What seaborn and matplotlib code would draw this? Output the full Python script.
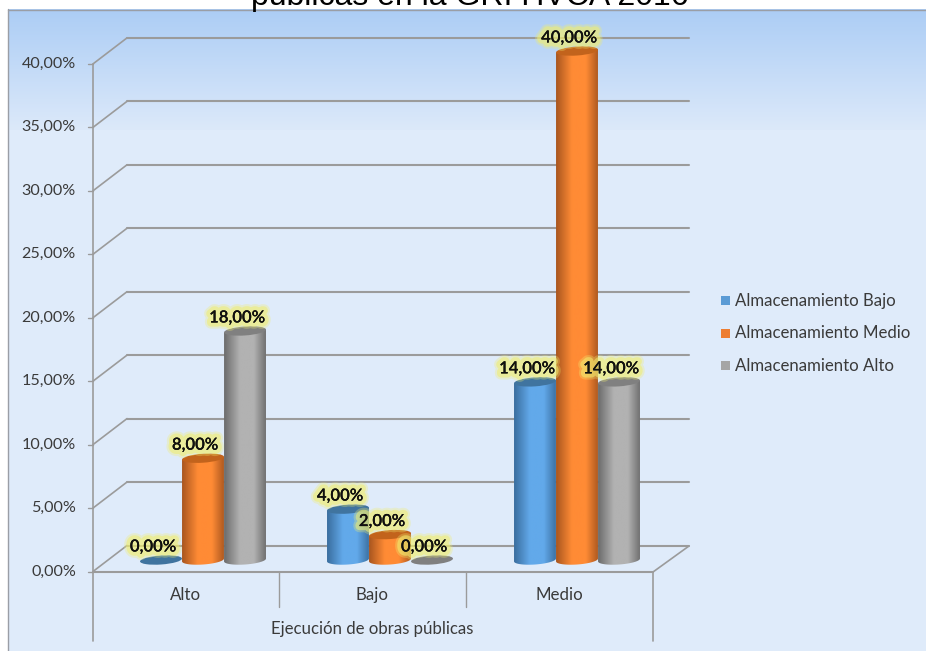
import numpy as np
import pandas as pd
import matplotlib
matplotlib.use("Agg")
import matplotlib.pyplot as plt
import matplotlib.patheffects as pe
from matplotlib.colors import LinearSegmentedColormap
from matplotlib.patches import Ellipse, Rectangle
from matplotlib.path import Path
from matplotlib.transforms import IdentityTransform
import seaborn as sns

categories = ["Alto", "Bajo", "Medio"]
series = ["Almacenamiento Bajo", "Almacenamiento Medio", "Almacenamiento Alto"]
bajo = [0.0, 4.0, 14.0]
medio = [8.0, 2.0, 40.0]
alto = [18.0, 0.0, 14.0]
ticks = [0, 5, 10, 15, 20, 25, 30, 35, 40]
title_text = "públicas en la GRI HVCA 2016"
axis_title = "Ejecución de obras públicas"

base_colors = ["#5B9BD5", "#ED7D31", "#A5A5A5"]
edge_colors = ["#3A6E9F", "#A9561F", "#6C6C6C"]
mid_colors = ["#62A9EA", "#FF8B35", "#B2B2B2"]
top_colors = ["#40749F", "#C2631C", "#808080"]

W, H = 926, 651
sns.set_theme(style="white")
plt.rcParams["font.family"] = ["Lato", "DejaVu Sans"]
df = pd.DataFrame({"cat": categories * 3,
                   "serie": np.repeat(series, 3),
                   "valor": bajo + medio + alto})

fig = plt.figure(figsize=(W / 100, H / 100), dpi=100, facecolor="white")

# background panel
bg = fig.add_axes([0, 0, 1, 1], zorder=0)
bg.set_xlim(0, W); bg.set_ylim(H, 0); bg.axis("off")
grad = LinearSegmentedColormap.from_list("g", ["#ACCDF5", "#DCE9FA"])
bg.add_patch(Rectangle((7.5, 9), W, H, fc="#DFEBFA", ec="none"))
bg.imshow(np.linspace(0, 1, 128)[:, None], extent=(7.5, W, 130, 9), cmap=grad, aspect="auto", zorder=1)
bg.set_xlim(0, W); bg.set_ylim(H, 0)
bg.plot([7.5, W], [9.5, 9.5], color="#9A9EA6", lw=1, zorder=2)
bg.plot([7.5, 7.5], [9, H], color="#9A9EA6", lw=1, zorder=2)

# pixel <-> data mapping of the plot axes
ax = fig.add_axes([0, 0, 1, 1], zorder=1)
ax.patch.set_alpha(0)
PX0, PXU, PY0, PYU = 203.0, 187.0, 560.0, 12.725
xlim = ((0 - PX0) / PXU, (W - PX0) / PXU)
ylim = ((PY0 - H) / PYU, PY0 / PYU)


def dx(p):
    return (p - PX0) / PXU


def dy(p):
    return (PY0 - p) / PYU


LINE = "#9B9B9B"
TEXT = "#3A3A3A"
# walls and floor, drawn through the value scale
for t in ticks:
    yf = 571.5 - t * 12.69
    yb = yf - 26
    ax.plot([dx(127), dx(689)], [dy(yb), dy(yb)], color=LINE, lw=1.5, zorder=1)
    ax.plot([dx(93), dx(127)], [dy(yf), dy(yb)], color=LINE, lw=1.2, zorder=1)
    ax.plot([dx(88), dx(93)], [dy(yf), dy(yf)], color=LINE, lw=1, zorder=1)
    ax.text(dx(76), dy(yf), f"{t:.2f}".replace(".", ",") + "%", ha="right", va="center",
            fontsize=11.6, color=TEXT)
ax.plot([dx(93), dx(93)], [dy(64), dy(641)], color=LINE, lw=1.2, zorder=1)
ax.plot([dx(93), dx(653)], [dy(572), dy(572)], color=LINE, lw=1.5, zorder=1)
ax.plot([dx(653), dx(689)], [dy(572), dy(546)], color=LINE, lw=1.2, zorder=1)
ax.plot([dx(653), dx(653)], [dy(572), dy(641)], color=LINE, lw=1.2, zorder=1)
for p in (279, 466):
    ax.plot([dx(p), dx(p)], [dy(572), dy(607)], color=LINE, lw=1, zorder=1)

sns.barplot(data=df, x="cat", y="valor", hue="serie", order=categories, hue_order=series,
            palette=base_colors, saturation=1, width=0.674, gap=0, legend=False, ax=ax,
            zorder=2, errorbar=None)
ax.set_xlim(*xlim); ax.set_ylim(*ylim)
ax.axis("off")
fig.canvas.draw()

RY = 4.5
TILT = np.deg2rad(4)
bars = [p for p in ax.patches if isinstance(p, Rectangle)]
for i, bar in enumerate(bars):
    s = i // 3
    x0, w, h = bar.get_x(), bar.get_width(), bar.get_height()
    cx, cy0 = ax.transData.transform((x0 + w / 2, 0))
    _, cy1 = ax.transData.transform((0, h))
    rx = w * PXU / 2
    z = 3 + s + i * 0.01
    bar.set_visible(False)
    if h > 0:
        th = np.linspace(np.pi, 2 * np.pi, 60)
        ex = rx * np.cos(th); ey = RY * np.sin(th)
        bx = cx + ex * np.cos(TILT) - ey * np.sin(TILT)
        by = cy0 + ex * np.sin(TILT) + ey * np.cos(TILT)
        tx = np.array([cx + rx * np.cos(TILT)]); ty = np.array([cy1 + rx * np.sin(TILT)])
        lx = np.array([cx - rx * np.cos(TILT)]); ly = np.array([cy1 - rx * np.sin(TILT)])
        poly = np.column_stack([np.r_[lx, bx, tx], np.r_[ly, by, ty]])
        cmap = LinearSegmentedColormap.from_list(
            "c", [edge_colors[s], mid_colors[s], mid_colors[s], edge_colors[s]])
        vals = np.interp(np.linspace(0, 1, 128), [0, 0.5, 1], [0, 0.45, 1])[None, :]
        im = ax.imshow(vals, extent=(x0, x0 + w, -2, h + 2), cmap=cmap, aspect="auto", zorder=z)
        im.set_clip_path(Path(poly), IdentityTransform())
    ax.add_patch(Ellipse((cx, cy1), 2 * rx, 2 * RY, angle=4, fc=top_colors[s], ec="none",
                         transform=IdentityTransform(), zorder=z + 0.005))
ax.set_xlim(*xlim); ax.set_ylim(*ylim)

# data labels
glow = [pe.withStroke(linewidth=9, foreground="#F0EE70", alpha=0.3),
        pe.withStroke(linewidth=6, foreground="#F0EE70", alpha=0.55),
        pe.Normal()]
for i, bar in enumerate(bars):
    x = bar.get_x() + bar.get_width() / 2 - 8 / PXU
    h = bar.get_height()
    ax.text(x, h + 1.06, f"{h:.2f}".replace(".", ",") + "%", ha="center", va="center",
            fontsize=12, color="#101010", fontweight="semibold", zorder=10, path_effects=glow)

# category and axis labels
for i, c in enumerate(categories):
    ax.text(i - 0.095, dy(595), c, ha="center", va="center", fontsize=12.2, color=TEXT)
ax.text(dx(372), dy(629), axis_title, ha="center", va="center", fontsize=12.1, color=TEXT)

# legend
for name, col, y in zip(series, base_colors, (300, 333, 365)):
    ax.add_patch(Rectangle((dx(721), dy(y + 4.5)), 9 / PXU, 9 / PYU, fc=col, ec="none", zorder=5))
    ax.text(dx(735), dy(y + 0.5), name, ha="left", va="center", fontsize=12.1, color=TEXT)

ax.text(dx(470), dy(5.5), title_text, ha="center", va="baseline", fontsize=23,
        family="Liberation Sans", color="#000000", zorder=12)

fig.savefig("out.png", dpi=100, facecolor="white")
